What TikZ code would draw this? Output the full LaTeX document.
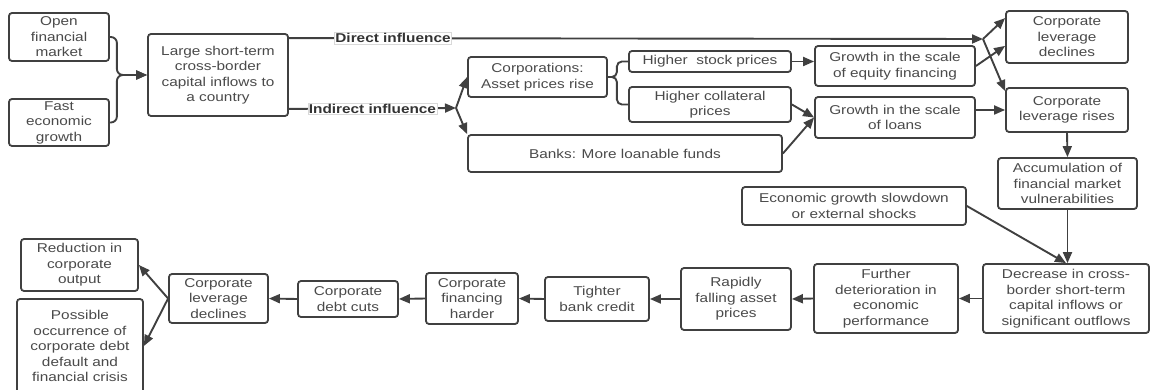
\documentclass[tikz,border=0pt]{standalone}
\usepackage{fontspec}
\setmainfont[FakeStretch=1.2]{Liberation Sans}
\usepackage{tikz}
\usetikzlibrary{calc}
\usetikzlibrary{arrows.meta}
\definecolor{edge}{HTML}{404040}
\definecolor{ink}{HTML}{4A4A4A}

\begin{document}
\begin{tikzpicture}[x=1pt, y=-1pt, >={Triangle[length=11pt,width=9pt]},
  box/.style={draw=edge, line width=1.8pt, rounded corners=3pt, fill=white, text=ink, align=center, inner sep=0pt, font=\fontsize{12.8}{15.5}\selectfont},
  tag/.style={fill=white, draw=black!15, line width=0.4pt, inner sep=1pt, text=black!80, font=\bfseries\fontsize{12.8}{15.5}\selectfont},
  line/.style={draw=edge, line width=1.9pt}]
\useasboundingbox (0,0) rectangle (1151,390);
\node[box, minimum width=100, minimum height=48] (open) at (59, 37) {Open\\financial\\market};
\node[box, minimum width=100, minimum height=47] (fast) at (59, 122.5) {Fast\\economic\\growth};
\node[box, minimum width=140, minimum height=82] (large) at (218, 75) {Large short-term\\cross-border\\capital inflows to\\a country};
\node[box, minimum width=139, minimum height=40] (corp) at (537.5, 77) {Corporations:\\Asset prices rise};
\node[box, minimum width=314, minimum height=37] (banks) at (625, 153.5) {Banks: More loanable funds};
\node[box, minimum width=162, minimum height=21] (stock) at (710, 61.5) {Higher\ \ stock prices};
\node[box, minimum width=162, minimum height=35] (coll) at (710, 104.5) {Higher collateral\\prices};
\node[box, minimum width=160, minimum height=40] (grequity) at (895, 66) {Growth in the scale\\of equity financing};
\node[box, minimum width=160, minimum height=41] (grloans) at (895, 117.5) {Growth in the scale\\of loans};
\node[box, minimum width=122, minimum height=52] (levdown1) at (1067, 37) {Corporate\\leverage\\declines};
\node[box, minimum width=122, minimum height=44] (levup) at (1067, 110) {Corporate\\leverage rises};
\node[box, minimum width=139, minimum height=51] (accum) at (1067.5, 183.5) {Accumulation of\\financial market\\vulnerabilities};
\node[box, minimum width=224, minimum height=38] (slowdown) at (854, 206) {Economic growth slowdown\\or external shocks};
\node[box, minimum width=166, minimum height=69] (decrease) at (1066, 298.5) {Decrease in cross-\\border short-term\\capital inflows or\\significant outflows};
\node[box, minimum width=144, minimum height=69] (further) at (886, 298.5) {Further\\deterioration in\\economic\\performance};
\node[box, minimum width=110, minimum height=62] (rapid) at (736, 299) {Rapidly\\falling asset\\prices};
\node[box, minimum width=104, minimum height=44] (tighter) at (597, 299) {Tighter\\bank credit};
\node[box, minimum width=92, minimum height=51] (harder) at (472, 298.5) {Corporate\\financing\\harder};
\node[box, minimum width=100, minimum height=36] (debtcut) at (348, 299) {Corporate\\debt cuts};
\node[box, minimum width=99, minimum height=49] (levdown2) at (218.5, 298.5) {Corporate\\leverage\\declines};
\node[box, minimum width=117, minimum height=52] (reduction) at (79.5, 265) {Reduction in\\corporate\\output};
\node[box, minimum width=126, minimum height=94] (possible) at (80, 346) {Possible\\occurrence of\\corporate debt\\default and\\financial crisis};
\coordinate (split) at (983, 39);
\coordinate (branch) at (456, 108);
\draw[line, rounded corners=6pt, ->] (open.east) -- ++(7, 0) |- (large.west);
\draw[line, rounded corners=6pt, ->] (fast.east) -- ++(7, 0) |- (large.west);
\draw[line, ->] ($(large.north east)+(0, 5)$) -- (split) node[tag, pos=0.15] {Direct influence};
\draw[line, ->] (split) -- ($(levdown1.north west)+(0, 8)$);
\draw[line, ->] (split) -- ($(levup.north west)+(0, 4)$);
\draw[line, ->] ($(large.south east)+(0, -8)$) -- (branch) node[tag, midway] {Indirect influence};
\draw[line, ->] (branch) -- (corp.west);
\draw[line, ->] (branch) -- (banks.north west);
\draw[line, rounded corners=5pt] (corp.east) -- ++(9, 0) |- (stock.west);
\draw[line, rounded corners=5pt] (corp.east) -- ++(9, 0) |- (coll.west);
\draw[line, ->] (stock.east) -- (stock.east -| grequity.west);
\draw[line, ->] (coll.east) -- (grloans.west);
\draw[line, ->] (banks.east) -- (grloans.west);
\draw[line, ->] (grequity.east) -- ($(levdown1.south west)+(0, -18)$);
\draw[line, ->] (grloans.east |- levup.west) -- (levup.west);
\draw[line, ->] (levup.south) -- (accum.north);
\draw[line, ->] (accum.south) -- (accum.south |- decrease.north);
\draw[line, ->] (slowdown.east) -- (decrease.north);
\draw[line, ->] (decrease.west) -- (further.east);
\draw[line, ->] (further.west) -- (rapid.east);
\draw[line, ->] (rapid.west) -- (tighter.east);
\draw[line, ->] (tighter.west) -- (harder.east);
\draw[line, ->] (harder.west) -- (debtcut.east);
\draw[line, ->] (debtcut.west) -- (levdown2.east);
\draw[line, ->] (levdown2.west) -- (reduction.east);
\draw[line, ->] (levdown2.west) -- (possible.east);
\end{tikzpicture}
\end{document}
